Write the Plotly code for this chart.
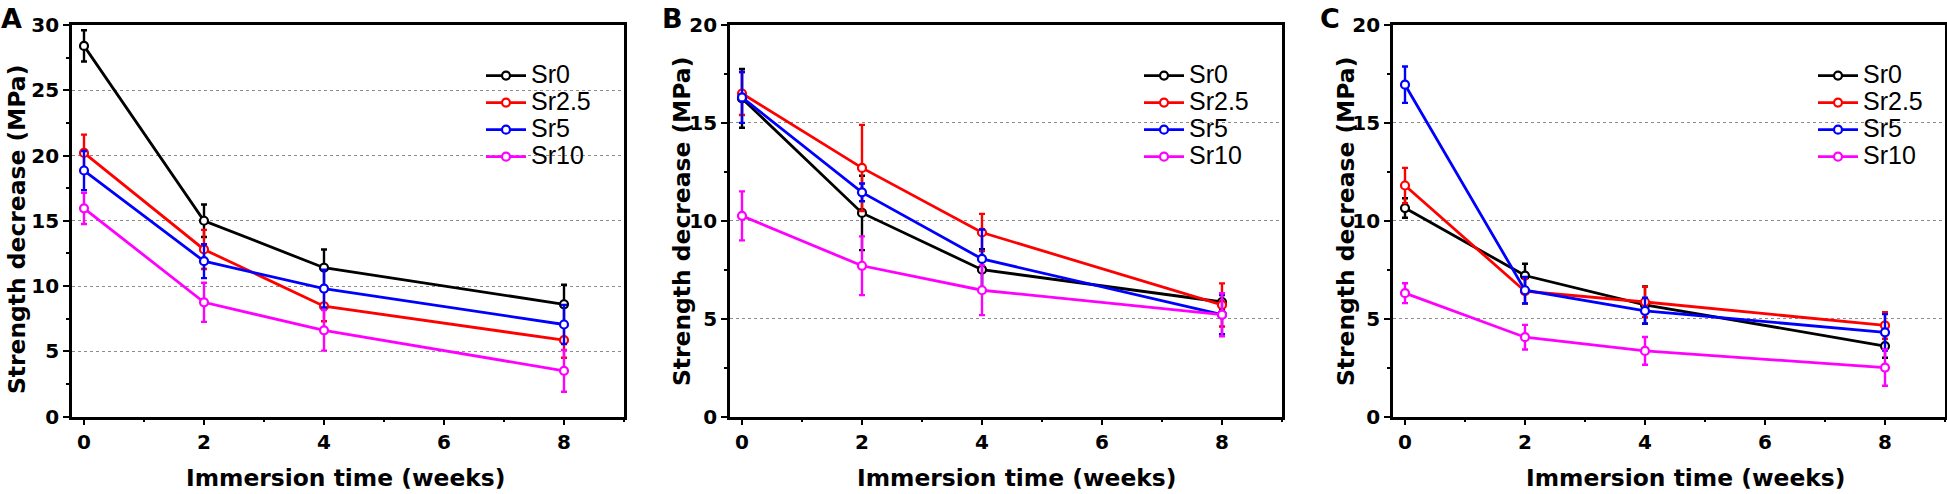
import plotly.graph_objects as go

W, H = 1947, 494

weeks = [0, 2, 4, 8]
series_names = ["Sr0", "Sr2.5", "Sr5", "Sr10"]
colors = ["#000000", "#FF0000", "#0000FF", "#FF00FF"]

# Panel A
a_sr0 = [28.4, 15.0, 11.4, 8.6]
a_sr0_err = [1.2, 1.25, 1.4, 1.5]
a_sr25 = [20.2, 12.8, 8.45, 5.85]
a_sr25_err = [1.4, 1.5, 1.15, 1.35]
a_sr5 = [18.85, 11.9, 9.8, 7.05]
a_sr5_err = [1.5, 1.3, 1.45, 1.5]
a_sr10 = [15.95, 8.75, 6.6, 3.5]
a_sr10_err = [1.2, 1.5, 1.55, 1.6]

# Panel B
b_sr0 = [16.25, 10.4, 7.5, 5.85]
b_sr0_err = [1.5, 1.9, 1.05, 0.4]
b_sr25 = [16.5, 12.7, 9.4, 5.7]
b_sr25_err = [1.1, 2.2, 0.95, 1.1]
b_sr5 = [16.3, 11.45, 8.05, 5.2]
b_sr5_err = [1.3, 0.45, 1.5, 1.0]
b_sr10 = [10.25, 7.7, 6.45, 5.2]
b_sr10_err = [1.25, 1.5, 1.27, 1.1]

# Panel C
c_sr0 = [10.65, 7.2, 5.7, 3.6]
c_sr0_err = [0.5, 0.6, 0.95, 0.6]
c_sr25 = [11.8, 6.4, 5.85, 4.65]
c_sr25_err = [0.9, 0.63, 0.77, 0.68]
c_sr5 = [16.95, 6.45, 5.4, 4.3]
c_sr5_err = [0.93, 0.68, 0.67, 0.93]
c_sr10 = [6.3, 4.05, 3.35, 2.5]
c_sr10_err = [0.51, 0.63, 0.71, 0.93]

panels = [
    ([a_sr0, a_sr25, a_sr5, a_sr10], [a_sr0_err, a_sr25_err, a_sr5_err, a_sr10_err]),
    ([b_sr0, b_sr25, b_sr5, b_sr10], [b_sr0_err, b_sr25_err, b_sr5_err, b_sr10_err]),
    ([c_sr0, c_sr25, c_sr5, c_sr10], [c_sr0_err, c_sr25_err, c_sr5_err, c_sr10_err]),
]
panel_letters = ["A", "B", "C"]
y_max = [30, 20, 20]
x_title = "Immersion time (weeks)"
y_title = "Strength decrease (MPa)"

# layout geometry (pixels)
plot_left = [72, 730, 1393]
plot_right = [624, 1282, 1945]
plot_top, plot_bottom = 25, 416.5
legend_left = [481, 1139, 1813]
ytitle_x = [17, 682, 1346]
ytitle_y = [230, 222, 222]
xtitle_x = [345, 1016, 1685]
letter_x = [11, 672, 1330]

def px(x):
    return x / W

def py(y):
    return 1 - y / H

fig = go.Figure()
FONT = "Liberation Sans, Arial, sans-serif"
BFONT = "DejaVu Sans, Arial, sans-serif"

for p, (vals, errs) in enumerate(panels):
    sfx = "" if p == 0 else str(p + 1)
    leg = "legend" if p == 0 else f"legend{p + 1}"
    for name, col, v, e in zip(series_names, colors, vals, errs):
        fig.add_trace(go.Scatter(
            x=weeks, y=v, name=f"<span style='font-size:25px'>{name}</span>",
            mode="lines+markers",
            xaxis="x" + sfx, yaxis="y" + sfx, legend=leg,
            line=dict(color=col, width=2.8),
            marker=dict(symbol="circle", size=8, color="white",
                        line=dict(color=col, width=2.2)),
            error_y=dict(type="data", array=e, visible=True,
                         color=col, thickness=2.4, width=3),
        ))

    axis_common = dict(
        showline=True, linewidth=2.6, linecolor="black", mirror=True,
        ticks="outside", ticklen=6, tickwidth=2.4, tickcolor="black",
        tickfont=dict(family=BFONT, size=20, color="black", weight="bold"),
        zeroline=False, automargin=False,
    )
    fig.update_layout(**{
        "xaxis" + sfx: dict(
            domain=[px(plot_left[p]), px(plot_right[p])],
            anchor="y" + sfx, range=[-0.2, 9], tick0=0, dtick=2,
            showgrid=False,
            minor=dict(dtick=1, tick0=0, ticklen=3, tickwidth=2, ticks="outside",
                       tickcolor="black", showgrid=False),
            **axis_common),
        "yaxis" + sfx: dict(
            domain=[py(plot_bottom), py(plot_top)],
            anchor="x" + sfx, range=[0, y_max[p]], tick0=0, dtick=5,
            showgrid=True, gridcolor="#8c8c8c", griddash="dot", gridwidth=1.3,
            minor=dict(dtick=2.5, tick0=0, ticklen=3, tickwidth=2, ticks="outside",
                       tickcolor="black", showgrid=False),
            **axis_common),
        leg: dict(
            x=px(legend_left[p]), y=py(57), xanchor="left", yanchor="top",
            bgcolor="rgba(0,0,0,0)", borderwidth=0,
            font=dict(family=FONT, size=18.5, color="black"),
            tracegroupgap=0, itemwidth=40,
        ),
    })

    fig.add_annotation(x=px(ytitle_x[p]), y=py(ytitle_y[p]), xref="paper", yref="paper",
                       text=y_title, textangle=-90, showarrow=False,
                       xanchor="center", yanchor="middle",
                       font=dict(family=BFONT, size=23.4, color="black", weight="bold"))
    fig.add_annotation(x=px(xtitle_x[p]), y=py(478), xref="paper", yref="paper",
                       text=x_title, showarrow=False,
                       xanchor="center", yanchor="middle",
                       font=dict(family=BFONT, size=23.4, color="black", weight="bold"))
    fig.add_annotation(x=px(letter_x[p]), y=py(1), xref="paper", yref="paper",
                       text=panel_letters[p], showarrow=False,
                       xanchor="center", yanchor="top",
                       font=dict(family=BFONT, size=27, color="black", weight="bold"))

fig.update_layout(
    width=W, height=H,
    margin=dict(l=0, r=0, t=0, b=0, pad=0, autoexpand=False),
    paper_bgcolor="white", plot_bgcolor="white",
    showlegend=True,
)

fig.write_html("out.html", config={"displayModeBar": False},
               post_script="document.body.style.margin='0px';")
